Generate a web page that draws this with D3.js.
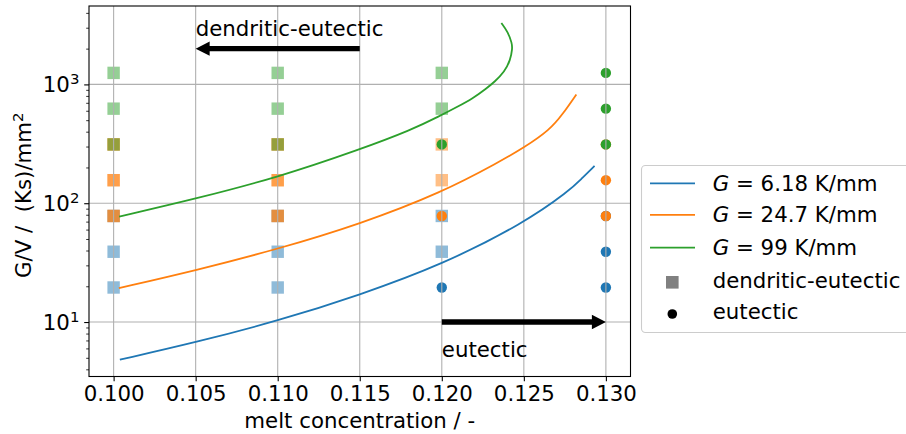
<!DOCTYPE html>
<html><head><meta charset="utf-8">
<script src="https://cdn.jsdelivr.net/npm/d3@7"></script>
<style>
body{margin:0;background:#fff}
text{font-family:"DejaVu Sans",sans-serif;fill:#000}
</style>
</head><body>
<svg id="chart" width="906" height="434"></svg>
<script>
// ---------- data ----------
const xTickValues = [0.100, 0.105, 0.110, 0.115, 0.120, 0.125, 0.130];
const yMajorTicks = [10, 100, 1000];
const yTickExponents = ["1", "2", "3"];
const yMinorTicks = [4,5,6,7,8,9,20,30,40,50,60,70,80,90,200,300,400,500,600,700,800,900,2000,3000,4000];
const gradients = ["6.18", "24.7", "99"];
const colors = ["#1f77b4", "#ff7f0e", "#2ca02c"];

// curves: [melt concentration, G/V]
const curveBlue = [[0.10038,4.82],[0.105,6.74],[0.110,10.2],[0.115,16.9],[0.120,30.3],[0.125,67.9],[0.12779,128],[0.1285,160],[0.12931,206]];
const curveOrange = [[0.10032,19.3],[0.105,27.2],[0.110,41.1],[0.115,66.6],[0.120,123],[0.12353,224],[0.125,293],[0.12659,415],[0.12738,565],[0.1282,824]];
const curveGreen = [[0.10034,77.2],[0.105,109],[0.110,165],[0.115,283],[0.11815,414],[0.11987,542],[0.12089,641],[0.1219,763],[0.12272,925],[0.12322,1051],[0.12382,1276],[0.12418,1600],[0.1243,2007],[0.12428,2211],[0.12403,2767],[0.12363,3293]];

// dendritic-eutectic (squares)
const dendriticBlue = [[0.10,19.53],[0.10,39.06],[0.10,78.125],[0.11,19.53],[0.11,39.06],[0.11,78.125],[0.12,39.06],[0.12,78.125]];
const dendriticOrange = [[0.10,78.125],[0.10,78.125],[0.10,156.25],[0.10,156.25],[0.10,312.5],[0.10,312.5],
                         [0.11,78.125],[0.11,78.125],[0.11,156.25],[0.11,156.25],[0.11,312.5],[0.11,312.5],
                         [0.12,156.25],[0.12,312.5]];
const dendriticGreen = [[0.10,312.5],[0.10,625],[0.10,1250],[0.11,312.5],[0.11,625],[0.11,1250],[0.12,625],[0.12,1250]];
// eutectic (circles)
const eutecticBlue = [[0.12,19.53],[0.13,19.53],[0.13,39.06],[0.13,78.125]];
const eutecticOrange = [[0.12,78.125],[0.13,78.125],[0.13,156.25],[0.13,312.5]];
const eutecticGreen = [[0.12,312.5],[0.13,312.5],[0.13,625],[0.13,1250]];

// annotations
const arrowDendritic = [[0.115,2000],[0.105,2000]];
const arrowEutectic = [[0.120,10],[0.130,10]];
const textDendritic = [0.105, 2570];
const textEutectic = [0.120, 5.1];

// ---------- layout ----------
const svg = d3.select("#chart");
const L = 89, R = 630.5, T = 6, B = 376.5;
const FS = 21.3;
const x = d3.scaleLinear().domain([0.0985, 0.1315]).range([L, R]);
const y = d3.scaleLog().domain([3.48, 4570]).range([B, T]);

// markers
const markerLayer = svg.append("g");
const groups = [
  [dendriticBlue, eutecticBlue, colors[0]],
  [dendriticOrange, eutecticOrange, colors[1]],
  [dendriticGreen, eutecticGreen, colors[2]]
];
const SQ = 12.4, CR = 5.2;
groups.forEach(([sq, ci, col]) => {
  markerLayer.append("g").selectAll("rect").data(sq).join("rect")
    .attr("x", d => x(d[0]) - SQ/2).attr("y", d => y(d[1]) - SQ/2)
    .attr("width", SQ).attr("height", SQ)
    .attr("fill", col).attr("fill-opacity", 0.5);
  markerLayer.append("g").selectAll("circle").data(ci).join("circle")
    .attr("cx", d => x(d[0])).attr("cy", d => y(d[1])).attr("r", CR)
    .attr("fill", col);
});

// grid (above markers, as in the reference)
const grid = svg.append("g").attr("stroke", "#b0b0b0").attr("stroke-width", 1.1);
grid.selectAll(".gx").data(xTickValues).join("line")
  .attr("x1", d => x(d)).attr("x2", d => x(d)).attr("y1", T).attr("y2", B);
grid.selectAll(".gy").data(yMajorTicks).join("line")
  .attr("y1", d => y(d)).attr("y2", d => y(d)).attr("x1", L).attr("x2", R);

// curves
const line = d3.line().x(d => x(d[0])).y(d => y(d[1])).curve(d3.curveBasis);
[curveBlue, curveOrange, curveGreen].forEach((c, i) => {
  svg.append("path").datum(c).attr("d", line)
    .attr("fill", "none").attr("stroke", colors[i]).attr("stroke-width", 1.8);
});

// arrows
function arrow(a) {
  const x0 = x(a[0][0]), y0 = y(a[0][1]), x1 = x(a[1][0]), y1 = y(a[1][1]);
  const dir = Math.sign(x1 - x0);
  const hw = 2.7, hh = 7.2, hl = 14;
  const xb = x1 - dir * hl;
  const pts = [[x0, y0 - hw], [xb, y0 - hw], [xb, y0 - hh], [x1, y1], [xb, y0 + hh], [xb, y0 + hw], [x0, y0 + hw]];
  svg.append("path").attr("d", "M" + pts.map(p => p.join(",")).join("L") + "Z").attr("fill", "#000");
}
arrow(arrowDendritic);
arrow(arrowEutectic);

svg.append("text").attr("x", x(textDendritic[0])).attr("y", y(textDendritic[1]))
  .attr("font-size", FS).text("dendritic-eutectic");
svg.append("text").attr("x", x(textEutectic[0])).attr("y", y(textEutectic[1]))
  .attr("font-size", FS).text("eutectic");

// frame
svg.append("rect").attr("x", L).attr("y", T).attr("width", R - L).attr("height", B - T)
  .attr("fill", "none").attr("stroke", "#000").attr("stroke-width", 1.1);

// x axis
const xAxis = svg.append("g").attr("transform", `translate(0,${B})`)
  .call(d3.axisBottom(x).tickValues(xTickValues).tickFormat(d3.format(".3f")).tickSize(4.8).tickPadding(4.8));
xAxis.select(".domain").remove();
xAxis.selectAll("line").attr("stroke", "#000").attr("stroke-width", 1.1);
xAxis.selectAll("text").attr("font-size", FS).attr("font-family", "DejaVu Sans").attr("fill", "#000");

// y axis
const yAxis = svg.append("g").attr("transform", `translate(${L},0)`)
  .call(d3.axisLeft(y).tickValues(yMajorTicks).tickFormat("").tickSize(4.8));
yAxis.select(".domain").remove();
yAxis.selectAll("line").attr("stroke", "#000").attr("stroke-width", 1.1);
const yMinor = svg.append("g").attr("transform", `translate(${L},0)`)
  .call(d3.axisLeft(y).tickValues(yMinorTicks).tickFormat("").tickSize(2.8));
yMinor.select(".domain").remove();
yMinor.selectAll("line").attr("stroke", "#000").attr("stroke-width", 0.8);

yMajorTicks.forEach((v, i) => {
  const t = svg.append("text").attr("x", L - 9.6).attr("y", y(v) + 8)
    .attr("text-anchor", "end").attr("font-size", FS);
  t.append("tspan").text("10");
  t.append("tspan").attr("dy", -8.5).attr("font-size", FS * 0.7).text(yTickExponents[i]);
});

// axis labels
svg.append("text").attr("x", (L + R) / 2).attr("y", 428).attr("text-anchor", "middle")
  .attr("font-size", FS).text("melt concentration / -");
const yl = svg.append("text").attr("transform", `translate(31,${(T + B) / 2 + 4}) rotate(-90)`)
  .attr("text-anchor", "middle").attr("font-size", FS).style("white-space", "pre");
yl.append("tspan").text("G/V /  (Ks)/mm");
yl.append("tspan").attr("dy", -8.5).attr("font-size", FS * 0.7).text("2");

// legend
const lg = svg.append("g");
lg.append("rect").attr("x", 641.5).attr("y", 165.5).attr("width", 280).attr("height", 167).attr("rx", 4)
  .attr("fill", "#fff").attr("fill-opacity", 0.8).attr("stroke", "#cccccc").attr("stroke-width", 1.1);
const rowsY = [190.7, 222.3, 255, 287.7, 319.3];
gradients.forEach((g, i) => {
  lg.append("line").attr("x1", 650).attr("x2", 695).attr("y1", rowsY[i] - 7.4).attr("y2", rowsY[i] - 7.4)
    .attr("stroke", colors[i]).attr("stroke-width", 1.8);
  const t = lg.append("text").attr("x", 712.7).attr("y", rowsY[i]).attr("font-size", FS).style("white-space", "pre");
  t.append("tspan").attr("font-style", "italic").text("G");
  t.append("tspan").text(" = " + g + " K/mm");
});
lg.append("rect").attr("x", 672.3 - 6.3).attr("y", rowsY[3] - 5.4 - 6.3).attr("width", 12.6).attr("height", 12.6).attr("fill", "#808080");
lg.append("text").attr("x", 712.7).attr("y", rowsY[3]).attr("font-size", FS).text("dendritic-eutectic");
lg.append("circle").attr("cx", 672.3).attr("cy", rowsY[4] - 5.3).attr("r", 4.8).attr("fill", "#000");
lg.append("text").attr("x", 712.7).attr("y", rowsY[4]).attr("font-size", FS).text("eutectic");
</script>
</body></html>
